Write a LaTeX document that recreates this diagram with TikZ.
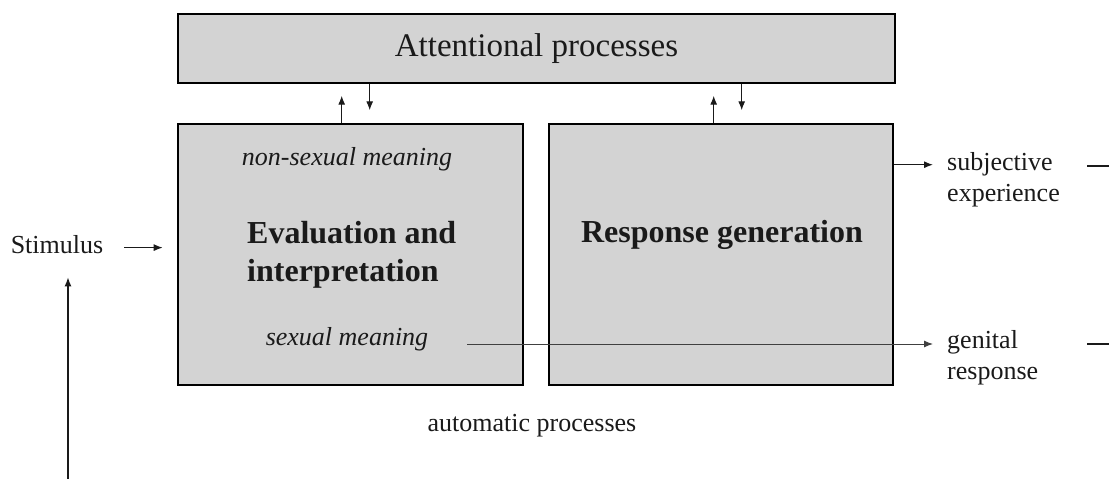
\documentclass[tikz,border=0pt]{standalone}
\usepackage{fontspec}
\setmainfont{Liberation Serif}
\usetikzlibrary{arrows.meta,calc}
\definecolor{boxgray}{HTML}{D3D3D3}
\definecolor{ink}{HTML}{1A1A1A}
\begin{document}
\begin{tikzpicture}[x=1pt,y=-1pt,
  box/.style={draw=black,line width=2.6pt,fill=boxgray,inner sep=0pt},
  lbl/.style={inner sep=0pt,text=ink,font=\fontsize{26}{31.5}\selectfont},
  ital/.style={lbl,font=\fontsize{26}{31.5}\selectfont\itshape},
  head/.style={inner sep=0pt,text=ink,font=\fontsize{32}{38}\selectfont\bfseries},
  arr/.style={-{Latex[length=9pt,width=7pt]},line width=1.1pt,draw=ink},
  stub/.style={line width=2.4pt,draw=ink}]
\useasboundingbox (0,0) rectangle (1109,479);

% boxes
\node[box,minimum width=717pt,minimum height=69pt,text=ink,
      font=\fontsize{33}{40}\selectfont] (A) at (536.5,48.5) {Attentional processes};
\node[box,minimum width=345pt,minimum height=261pt] (L) at (350.5,254.5) {};
\node[box,minimum width=344pt,minimum height=261pt] (R) at (721,254.5) {};

% texts in boxes
\node[ital,anchor=base] (ns) at (347,165) {non-sexual meaning};
\node[head,align=left,anchor=west] (ev) at (247,254.5) {Evaluation and\\interpretation};
\node[ital,anchor=base] (sm) at (347,345) {sexual meaning};
\node[head,anchor=base] (rg) at (722,242) {Response generation};

% outside labels
\node[lbl,anchor=base] (S) at (57,253) {Stimulus};
\node[lbl,align=left,anchor=west] (SE) at (947,179.6) {subjective\\experience};
\node[lbl,align=left,anchor=west] (G) at (947,357.7) {genital\\response};
\node[lbl,anchor=base] (AP) at (532,431) {automatic processes};

% arrows between attention box and lower boxes
\draw[arr] ($(L.north west)+(165,0)$) -- ++(0,-27);
\draw[arr] ($(A.south west)+(193,0)$) -- ++(0,26);
\draw[arr] ($(R.north west)+(166,0)$) -- ++(0,-27);
\draw[arr] ($(A.south west)+(565,0)$) -- ++(0,26);

% stimulus input
\draw[arr] ($(S.east)+(21,3.5)$) -- ($(S.east -| L.west)+(-14,3.5)$);
\coordinate (fb) at (68,479);
\draw[arr,shorten >=24pt] (fb) -- (fb |- S.south);

% outputs
\draw[arr] ($(R.north east)+(0,42)$) -- ($(R.north east -| SE.west)+(-14,42)$);
\draw[arr,line width=1pt,draw=black!75] ($(sm.base east)+(39,-1)$) -- ($(sm.base east -| G.west)+(-14,-1)$);

% continuation stubs at the right edge
\coordinate (c1) at (1087,166);
\coordinate (c2) at (1087,344);
\draw[stub] (c1) -- ++(22,0);
\draw[stub] (c2) -- ++(22,0);
\end{tikzpicture}
\end{document}
